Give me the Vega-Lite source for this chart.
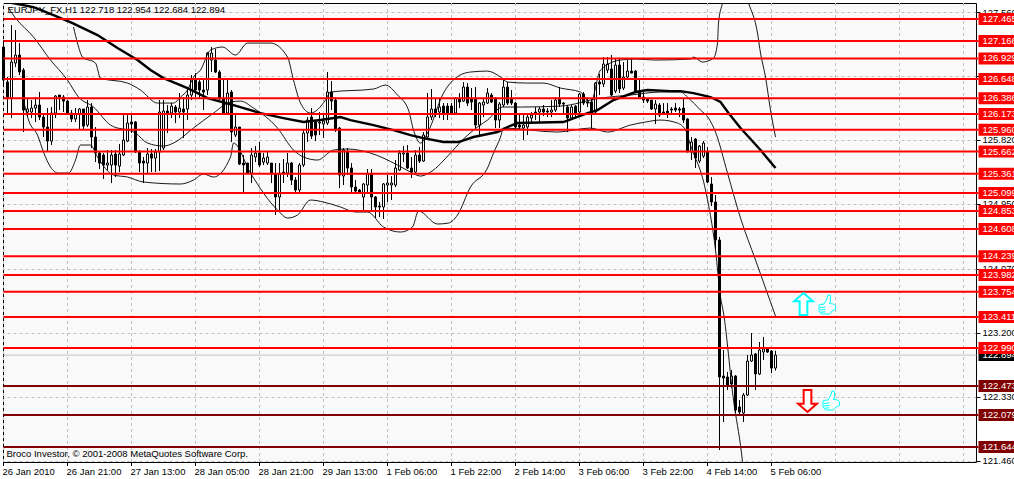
{
  "$schema": "https://vega.github.io/schema/vega-lite/v6.json",
  "width": 973,
  "height": 459,
  "autosize": {"type": "none"},
  "padding": {"left": 3, "top": 3, "right": 38, "bottom": 17},
  "background": "#ffffff",
  "view": {"fill": "#f9f9f9", "stroke": "#000000", "strokeWidth": 1},
  "config": {"font": "Liberation Sans", "text": {"font": "Liberation Sans"}},
  "datasets": {
    "candles": [
      {"i":0,"o":127.084,"h":127.179,"l":126.567,"c":126.635},{"i":1,"o":126.608,"h":126.676,"l":126.159,"c":126.404},{"i":2,"o":126.390,"h":127.383,"l":126.118,"c":126.880},{"i":3,"o":126.866,"h":127.315,"l":126.812,"c":126.975},
      {"i":4,"o":126.975,"h":127.138,"l":126.703,"c":126.744},{"i":5,"o":126.771,"h":126.798,"l":125.928,"c":126.227},{"i":6,"o":126.200,"h":126.390,"l":126.132,"c":126.241},{"i":7,"o":126.200,"h":126.363,"l":126.118,"c":126.254},
      {"i":8,"o":126.254,"h":126.404,"l":126.064,"c":126.295},{"i":9,"o":126.295,"h":126.472,"l":126.091,"c":126.132},{"i":10,"o":126.132,"h":126.186,"l":125.860,"c":125.996},{"i":11,"o":125.996,"h":126.254,"l":125.669,"c":125.805},
      {"i":12,"o":125.805,"h":126.268,"l":125.751,"c":126.186},{"i":13,"o":126.186,"h":126.431,"l":126.118,"c":126.417},{"i":14,"o":126.431,"h":126.431,"l":126.227,"c":126.404},{"i":15,"o":126.404,"h":126.431,"l":126.200,"c":126.349},
      {"i":16,"o":126.349,"h":126.363,"l":126.159,"c":126.186},{"i":17,"o":126.186,"h":126.227,"l":126.064,"c":126.105},{"i":18,"o":126.105,"h":126.254,"l":126.064,"c":126.173},{"i":19,"o":126.173,"h":126.254,"l":125.955,"c":126.241},
      {"i":20,"o":126.241,"h":126.241,"l":125.955,"c":126.009},{"i":21,"o":126.023,"h":126.363,"l":125.996,"c":126.268},{"i":22,"o":126.268,"h":126.322,"l":125.710,"c":125.860},{"i":23,"o":125.860,"h":125.996,"l":125.520,"c":125.642},
      {"i":24,"o":125.642,"h":125.656,"l":125.425,"c":125.506},{"i":25,"o":125.615,"h":125.642,"l":125.289,"c":125.479},{"i":26,"o":125.479,"h":125.683,"l":125.411,"c":125.506},{"i":27,"o":125.479,"h":125.683,"l":125.234,"c":125.615},
      {"i":28,"o":125.629,"h":125.683,"l":125.316,"c":125.479},{"i":29,"o":125.465,"h":125.765,"l":125.384,"c":125.629},{"i":30,"o":125.615,"h":126.159,"l":125.601,"c":125.819},{"i":31,"o":125.805,"h":126.159,"l":125.792,"c":126.050},
      {"i":32,"o":126.064,"h":126.186,"l":125.914,"c":126.037},{"i":33,"o":126.064,"h":126.077,"l":125.642,"c":125.656},{"i":34,"o":125.656,"h":125.683,"l":125.384,"c":125.506},{"i":35,"o":125.533,"h":125.588,"l":125.234,"c":125.506},
      {"i":36,"o":125.506,"h":125.710,"l":125.370,"c":125.629},{"i":37,"o":125.629,"h":125.697,"l":125.384,"c":125.574},{"i":38,"o":125.574,"h":125.697,"l":125.384,"c":125.656},{"i":39,"o":125.656,"h":126.363,"l":125.397,"c":126.200},
      {"i":40,"o":125.710,"h":126.363,"l":125.683,"c":126.213},{"i":41,"o":126.213,"h":126.295,"l":125.914,"c":126.186},{"i":42,"o":126.186,"h":126.322,"l":126.118,"c":126.281},{"i":43,"o":126.268,"h":126.295,"l":126.050,"c":126.200},
      {"i":44,"o":126.200,"h":126.458,"l":126.118,"c":126.254},{"i":45,"o":126.241,"h":126.404,"l":125.846,"c":126.200},{"i":46,"o":126.241,"h":126.526,"l":126.091,"c":126.431},{"i":47,"o":126.431,"h":126.703,"l":126.363,"c":126.649},
      {"i":48,"o":126.649,"h":126.730,"l":126.404,"c":126.499},{"i":49,"o":126.608,"h":126.635,"l":126.377,"c":126.499},{"i":50,"o":126.499,"h":126.635,"l":126.227,"c":126.472},{"i":51,"o":126.499,"h":127.016,"l":126.431,"c":127.002},
      {"i":52,"o":126.907,"h":127.084,"l":126.744,"c":127.002},{"i":53,"o":126.907,"h":127.057,"l":126.730,"c":126.744},{"i":54,"o":126.744,"h":126.771,"l":126.363,"c":126.377},{"i":55,"o":126.377,"h":126.635,"l":126.186,"c":126.186},
      {"i":56,"o":126.186,"h":126.635,"l":126.186,"c":126.458},{"i":57,"o":126.472,"h":126.499,"l":125.792,"c":125.928},{"i":58,"o":125.887,"h":126.186,"l":125.860,"c":125.996},{"i":59,"o":125.996,"h":125.996,"l":125.479,"c":125.493},
      {"i":60,"o":125.506,"h":125.615,"l":125.112,"c":125.479},{"i":61,"o":125.506,"h":125.506,"l":125.357,"c":125.370},{"i":62,"o":125.370,"h":125.710,"l":125.234,"c":125.615},{"i":63,"o":125.588,"h":125.737,"l":125.520,"c":125.642},
      {"i":64,"o":125.642,"h":125.792,"l":125.452,"c":125.479},{"i":65,"o":125.520,"h":125.642,"l":125.479,"c":125.574},{"i":66,"o":125.506,"h":125.656,"l":125.479,"c":125.588},{"i":67,"o":125.506,"h":125.506,"l":125.234,"c":125.357},
      {"i":68,"o":125.357,"h":125.506,"l":124.799,"c":125.044},{"i":69,"o":125.044,"h":125.506,"l":124.867,"c":125.357},{"i":70,"o":125.384,"h":125.561,"l":125.234,"c":125.370},{"i":71,"o":125.370,"h":125.642,"l":125.316,"c":125.506},
      {"i":72,"o":125.506,"h":125.520,"l":125.207,"c":125.275},{"i":73,"o":125.275,"h":125.316,"l":125.112,"c":125.139},{"i":74,"o":125.139,"h":125.506,"l":125.112,"c":125.479},{"i":75,"o":125.479,"h":125.955,"l":125.452,"c":125.914},
      {"i":76,"o":125.914,"h":126.132,"l":125.792,"c":126.091},{"i":77,"o":126.132,"h":126.254,"l":125.833,"c":125.873},{"i":78,"o":126.064,"h":126.091,"l":125.805,"c":125.887},{"i":79,"o":126.050,"h":126.200,"l":125.887,"c":126.064},
      {"i":80,"o":126.037,"h":126.159,"l":125.846,"c":126.077},{"i":81,"o":126.050,"h":126.744,"l":126.023,"c":126.472},{"i":82,"o":126.472,"h":126.621,"l":126.227,"c":126.349},{"i":83,"o":126.363,"h":126.404,"l":125.928,"c":125.955},
      {"i":84,"o":125.982,"h":125.996,"l":125.166,"c":125.343},{"i":85,"o":125.329,"h":125.710,"l":125.207,"c":125.683},{"i":86,"o":125.656,"h":125.710,"l":125.343,"c":125.438},{"i":87,"o":125.438,"h":125.506,"l":125.112,"c":125.180},
      {"i":88,"o":125.180,"h":125.275,"l":125.085,"c":125.125},{"i":89,"o":125.139,"h":125.153,"l":125.098,"c":125.112},{"i":90,"o":125.044,"h":125.234,"l":124.867,"c":125.221},{"i":91,"o":125.207,"h":125.425,"l":125.112,"c":125.357},
      {"i":92,"o":125.357,"h":125.425,"l":124.867,"c":125.044},{"i":93,"o":125.044,"h":125.057,"l":124.758,"c":124.908},{"i":94,"o":124.921,"h":124.976,"l":124.772,"c":124.908},{"i":95,"o":124.908,"h":125.234,"l":124.745,"c":125.221},
      {"i":96,"o":125.207,"h":125.343,"l":124.976,"c":125.234},{"i":97,"o":125.207,"h":125.329,"l":125.003,"c":125.234},{"i":98,"o":125.207,"h":125.547,"l":125.180,"c":125.438},{"i":99,"o":125.411,"h":125.683,"l":125.397,"c":125.642},
      {"i":100,"o":125.629,"h":125.737,"l":125.520,"c":125.642},{"i":101,"o":125.642,"h":125.751,"l":125.425,"c":125.438},{"i":102,"o":125.438,"h":125.588,"l":125.302,"c":125.384},{"i":103,"o":125.384,"h":125.683,"l":125.357,"c":125.615},
      {"i":104,"o":125.615,"h":125.724,"l":125.506,"c":125.533},{"i":105,"o":125.533,"h":125.928,"l":125.520,"c":125.887},{"i":106,"o":125.860,"h":126.458,"l":125.846,"c":126.132},{"i":107,"o":126.132,"h":126.513,"l":126.091,"c":126.241},
      {"i":108,"o":126.241,"h":126.390,"l":126.132,"c":126.186},{"i":109,"o":126.200,"h":126.390,"l":126.118,"c":126.268},{"i":110,"o":126.281,"h":126.322,"l":126.091,"c":126.186},{"i":111,"o":126.281,"h":126.322,"l":126.091,"c":126.186},
      {"i":112,"o":126.281,"h":126.322,"l":126.186,"c":126.186},{"i":113,"o":126.186,"h":126.404,"l":126.186,"c":126.390},{"i":114,"o":126.377,"h":126.458,"l":126.254,"c":126.336},{"i":115,"o":126.349,"h":126.608,"l":126.336,"c":126.540},
      {"i":116,"o":126.540,"h":126.594,"l":126.281,"c":126.322},{"i":117,"o":126.377,"h":126.526,"l":126.227,"c":126.336},{"i":118,"o":126.377,"h":126.540,"l":125.982,"c":126.023},{"i":119,"o":126.023,"h":126.336,"l":125.860,"c":126.322},
      {"i":120,"o":126.295,"h":126.390,"l":126.132,"c":126.336},{"i":121,"o":126.322,"h":126.526,"l":126.309,"c":126.458},{"i":122,"o":126.431,"h":126.458,"l":126.322,"c":126.336},{"i":123,"o":126.390,"h":126.404,"l":125.982,"c":126.091},
      {"i":124,"o":126.091,"h":126.336,"l":125.982,"c":126.309},{"i":125,"o":126.295,"h":126.662,"l":126.268,"c":126.540},{"i":126,"o":126.540,"h":126.608,"l":126.295,"c":126.322},{"i":127,"o":126.377,"h":126.499,"l":126.295,"c":126.322},
      {"i":128,"o":126.322,"h":126.336,"l":125.982,"c":125.996},{"i":129,"o":126.023,"h":126.186,"l":125.969,"c":125.996},{"i":130,"o":125.982,"h":126.186,"l":125.819,"c":126.023},{"i":131,"o":125.996,"h":126.186,"l":125.887,"c":126.132},
      {"i":132,"o":126.118,"h":126.200,"l":126.050,"c":126.159},{"i":133,"o":126.200,"h":126.268,"l":126.091,"c":126.173},{"i":134,"o":126.200,"h":126.268,"l":126.064,"c":126.241},{"i":135,"o":126.241,"h":126.295,"l":126.145,"c":126.200},
      {"i":136,"o":126.213,"h":126.254,"l":126.132,"c":126.200},{"i":137,"o":126.200,"h":126.363,"l":126.132,"c":126.227},{"i":138,"o":126.227,"h":126.404,"l":126.200,"c":126.363},{"i":139,"o":126.390,"h":126.540,"l":126.268,"c":126.309},
      {"i":140,"o":126.322,"h":126.336,"l":126.186,"c":126.309},{"i":141,"o":126.268,"h":126.295,"l":125.928,"c":126.118},{"i":142,"o":126.118,"h":126.295,"l":126.091,"c":126.268},{"i":143,"o":126.281,"h":126.295,"l":126.118,"c":126.186},
      {"i":144,"o":126.200,"h":126.458,"l":126.186,"c":126.445},{"i":145,"o":126.445,"h":126.472,"l":126.295,"c":126.322},{"i":146,"o":126.336,"h":126.390,"l":126.268,"c":126.322},{"i":147,"o":126.336,"h":126.390,"l":125.955,"c":126.186},
      {"i":148,"o":126.200,"h":126.608,"l":126.186,"c":126.594},{"i":149,"o":126.608,"h":126.717,"l":126.431,"c":126.581},{"i":150,"o":126.581,"h":126.948,"l":126.540,"c":126.853},{"i":151,"o":126.771,"h":126.948,"l":126.730,"c":126.853},
      {"i":152,"o":126.785,"h":126.975,"l":126.417,"c":126.431},{"i":153,"o":126.485,"h":126.921,"l":126.458,"c":126.839},{"i":154,"o":126.839,"h":126.921,"l":126.458,"c":126.513},{"i":155,"o":126.526,"h":126.880,"l":126.499,"c":126.676},
      {"i":156,"o":126.676,"h":126.907,"l":126.635,"c":126.757},{"i":157,"o":126.757,"h":126.921,"l":126.730,"c":126.730},{"i":158,"o":126.757,"h":126.771,"l":126.458,"c":126.472},{"i":159,"o":126.485,"h":126.635,"l":126.404,"c":126.404},
      {"i":160,"o":126.404,"h":126.472,"l":126.322,"c":126.363},{"i":161,"o":126.377,"h":126.390,"l":126.322,"c":126.349},{"i":162,"o":126.363,"h":126.363,"l":126.227,"c":126.241},{"i":163,"o":126.241,"h":126.363,"l":126.037,"c":126.309},
      {"i":164,"o":126.295,"h":126.322,"l":126.132,"c":126.159},{"i":165,"o":126.200,"h":126.322,"l":126.159,"c":126.186},{"i":166,"o":126.213,"h":126.322,"l":126.118,"c":126.186},{"i":167,"o":126.241,"h":126.268,"l":126.186,"c":126.227},
      {"i":168,"o":126.254,"h":126.322,"l":126.200,"c":126.227},{"i":169,"o":126.241,"h":126.268,"l":126.132,"c":126.227},{"i":170,"o":126.254,"h":126.390,"l":126.050,"c":126.091},{"i":171,"o":126.105,"h":126.118,"l":125.656,"c":125.656},
      {"i":172,"o":125.656,"h":125.860,"l":125.547,"c":125.792},{"i":173,"o":125.833,"h":125.846,"l":125.438,"c":125.574},{"i":174,"o":125.533,"h":125.751,"l":125.506,"c":125.737},{"i":175,"o":125.601,"h":125.805,"l":125.574,"c":125.778},
      {"i":176,"o":125.656,"h":125.724,"l":125.234,"c":125.248},{"i":177,"o":125.221,"h":125.316,"l":124.921,"c":124.976},{"i":178,"o":124.976,"h":125.071,"l":124.323,"c":124.459},{"i":179,"o":124.459,"h":124.500,"l":121.603,"c":122.596},
      {"i":180,"o":122.609,"h":122.963,"l":121.984,"c":122.582},{"i":181,"o":122.596,"h":122.664,"l":122.419,"c":122.487},{"i":182,"o":122.501,"h":122.691,"l":122.446,"c":122.609},{"i":183,"o":122.609,"h":122.623,"l":122.106,"c":122.147},
      {"i":184,"o":122.188,"h":122.283,"l":122.065,"c":122.120},{"i":185,"o":122.106,"h":122.378,"l":121.984,"c":122.351},{"i":186,"o":122.351,"h":122.895,"l":122.337,"c":122.813},{"i":187,"o":122.813,"h":123.194,"l":122.800,"c":122.895},
      {"i":188,"o":122.909,"h":122.922,"l":122.419,"c":122.637},{"i":189,"o":122.637,"h":123.072,"l":122.623,"c":122.963},{"i":190,"o":122.936,"h":123.140,"l":122.827,"c":122.977},{"i":191,"o":122.977,"h":122.990,"l":122.922,"c":122.936},
      {"i":192,"o":122.949,"h":122.963,"l":122.650,"c":122.718},{"i":193,"o":122.718,"h":122.954,"l":122.684,"c":122.894}
    ],
    "ma": [
      {"i":0,"p":127.696},{"i":1,"p":127.696},{"i":7.5,"p":127.628},{"i":12.5,"p":127.519},{"i":17.25,"p":127.410},{"i":23.5,"p":127.247},{"i":28.5,"p":127.070},{"i":33.5,"p":126.907},{"i":36.75,"p":126.771},{"i":40,"p":126.662},{"i":46,"p":126.526},{"i":51,"p":126.390},{"i":57.5,"p":126.295},{"i":64.25,"p":126.186},{"i":70,"p":126.118},{"i":75,"p":126.064},{"i":79.25,"p":126.091},{"i":84.25,"p":126.132},{"i":86.75,"p":126.091},{"i":92.5,"p":126.023},{"i":97.5,"p":125.955},{"i":101.75,"p":125.887},{"i":105,"p":125.846},{"i":110,"p":125.792},{"i":113.75,"p":125.792},{"i":117.5,"p":125.860},{"i":123.5,"p":125.928},{"i":126,"p":125.996},{"i":128.5,"p":126.050},{"i":140,"p":126.064},{"i":146,"p":126.186},{"i":148.5,"p":126.227},{"i":152.5,"p":126.363},{"i":158,"p":126.472},{"i":161,"p":126.499},{"i":166.75,"p":126.485},{"i":169.25,"p":126.485},{"i":172.5,"p":126.458},{"i":176.75,"p":126.404},{"i":179.25,"p":126.336},{"i":181.25,"p":126.186},{"i":184.25,"p":125.982},{"i":189.25,"p":125.683},{"i":193,"p":125.438}
    ],
    "bands": [
      {"s":"upper","i":17.5,"p":127.356},{"s":"upper","i":18.5,"p":127.138},{"s":"upper","i":19.75,"p":126.948},{"s":"upper","i":23,"p":126.866},{"s":"upper","i":24.25,"p":126.662},{"s":"upper","i":31,"p":126.594},{"s":"upper","i":34.25,"p":126.499},{"s":"upper","i":38.5,"p":126.322},{"s":"upper","i":42.5,"p":126.322},{"s":"upper","i":44.25,"p":126.404},{"s":"upper","i":46,"p":126.499},{"s":"upper","i":47.5,"p":126.676},{"s":"upper","i":49.25,"p":126.771},{"s":"upper","i":51.75,"p":127.043},{"s":"upper","i":54.75,"p":127.084},{"s":"upper","i":58,"p":126.975},{"s":"upper","i":61,"p":127.138},{"s":"upper","i":66.75,"p":127.138},{"s":"upper","i":71,"p":126.948},{"s":"upper","i":72.5,"p":126.635},{"s":"upper","i":74.25,"p":126.322},{"s":"upper","i":76.75,"p":126.186},{"s":"upper","i":80.5,"p":126.363},{"s":"upper","i":81.75,"p":126.472},{"s":"upper","i":92.5,"p":126.513},{"s":"upper","i":95.5,"p":126.567},{"s":"upper","i":98.5,"p":126.431},{"s":"upper","i":101.25,"p":126.227},{"s":"upper","i":102.5,"p":125.955},{"s":"upper","i":104.25,"p":125.778},{"s":"upper","i":106,"p":125.914},{"s":"upper","i":110,"p":126.458},{"s":"upper","i":113,"p":126.662},{"s":"upper","i":116.75,"p":126.744},{"s":"upper","i":121,"p":126.757},{"s":"upper","i":124.25,"p":126.676},{"s":"upper","i":126,"p":126.608},{"s":"upper","i":131,"p":126.594},{"s":"upper","i":135,"p":126.594},{"s":"upper","i":139.25,"p":126.526},{"s":"upper","i":144.25,"p":126.472},{"s":"upper","i":146.75,"p":126.322},{"s":"upper","i":149.25,"p":126.771},{"s":"upper","i":154.25,"p":126.907},{"s":"upper","i":158,"p":126.921},{"s":"upper","i":163,"p":126.907},{"s":"upper","i":171.75,"p":126.921},{"s":"upper","i":172.5,"p":126.948},{"s":"upper","i":174.75,"p":126.880},{"s":"upper","i":177.5,"p":126.934},{"s":"upper","i":178.5,"p":127.138},{"s":"upper","i":178.75,"p":127.410},{"s":"upper","i":179.75,"p":127.682},{"s":"upper","i":183,"p":128.131},{"s":"upper","i":186.25,"p":127.682},{"s":"upper","i":188.5,"p":127.274},{"s":"upper","i":189.25,"p":127.002},{"s":"upper","i":190.5,"p":126.676},{"s":"upper","i":191.75,"p":126.227},{"s":"upper","i":193,"p":125.860},
      {"s":"middle","i":1.25,"p":127.614},{"s":"middle","i":3,"p":127.478},{"s":"middle","i":7.5,"p":127.220},{"s":"middle","i":11.75,"p":126.907},{"s":"middle","i":16,"p":126.635},{"s":"middle","i":18.75,"p":126.404},{"s":"middle","i":22.5,"p":126.268},{"s":"middle","i":26.75,"p":126.023},{"s":"middle","i":33,"p":125.914},{"s":"middle","i":36,"p":125.778},{"s":"middle","i":40,"p":125.737},{"s":"middle","i":42.5,"p":125.778},{"s":"middle","i":47.5,"p":125.982},{"s":"middle","i":52.5,"p":126.186},{"s":"middle","i":56.75,"p":126.336},{"s":"middle","i":59.25,"p":126.349},{"s":"middle","i":62.5,"p":126.254},{"s":"middle","i":68.5,"p":125.982},{"s":"middle","i":72.5,"p":125.683},{"s":"middle","i":75,"p":125.588},{"s":"middle","i":78.5,"p":125.547},{"s":"middle","i":82.5,"p":125.683},{"s":"middle","i":86,"p":125.697},{"s":"middle","i":91.75,"p":125.642},{"s":"middle","i":98.5,"p":125.479},{"s":"middle","i":101.75,"p":125.384},{"s":"middle","i":104.25,"p":125.329},{"s":"middle","i":106.75,"p":125.384},{"s":"middle","i":111.75,"p":125.642},{"s":"middle","i":114.25,"p":125.792},{"s":"middle","i":118.5,"p":125.996},{"s":"middle","i":121,"p":126.091},{"s":"middle","i":124.75,"p":126.268},{"s":"middle","i":129.25,"p":126.268},{"s":"middle","i":139.25,"p":126.281},{"s":"middle","i":149.25,"p":126.390},{"s":"middle","i":156.75,"p":126.431},{"s":"middle","i":164.25,"p":126.472},{"s":"middle","i":169.25,"p":126.472},{"s":"middle","i":171.25,"p":126.390},{"s":"middle","i":174.25,"p":126.227},{"s":"middle","i":176.25,"p":126.118},{"s":"middle","i":178,"p":125.928},{"s":"middle","i":181,"p":125.370},{"s":"middle","i":184.25,"p":124.758},{"s":"middle","i":188,"p":124.187},{"s":"middle","i":193,"p":123.425},
      {"s":"lower","i":5,"p":126.363},{"s":"lower","i":6.25,"p":126.091},{"s":"lower","i":8.5,"p":125.887},{"s":"lower","i":10,"p":125.656},{"s":"lower","i":11.75,"p":125.452},{"s":"lower","i":13.75,"p":125.370},{"s":"lower","i":16.25,"p":125.370},{"s":"lower","i":18,"p":125.547},{"s":"lower","i":19.25,"p":125.751},{"s":"lower","i":21.75,"p":125.751},{"s":"lower","i":23.5,"p":125.588},{"s":"lower","i":27.5,"p":125.343},{"s":"lower","i":31,"p":125.316},{"s":"lower","i":35,"p":125.248},{"s":"lower","i":44.25,"p":125.221},{"s":"lower","i":47.5,"p":125.275},{"s":"lower","i":50,"p":125.357},{"s":"lower","i":52.5,"p":125.316},{"s":"lower","i":56.75,"p":125.588},{"s":"lower","i":57.5,"p":125.778},{"s":"lower","i":61.75,"p":125.370},{"s":"lower","i":68.5,"p":124.867},{"s":"lower","i":71,"p":124.758},{"s":"lower","i":73.5,"p":124.799},{"s":"lower","i":76.75,"p":125.003},{"s":"lower","i":80,"p":124.976},{"s":"lower","i":84.25,"p":124.908},{"s":"lower","i":88,"p":124.840},{"s":"lower","i":91,"p":124.840},{"s":"lower","i":95,"p":124.636},{"s":"lower","i":99.25,"p":124.568},{"s":"lower","i":102.25,"p":124.636},{"s":"lower","i":103.75,"p":124.853},{"s":"lower","i":108.5,"p":124.677},{"s":"lower","i":111.25,"p":124.690},{"s":"lower","i":113.5,"p":124.799},{"s":"lower","i":116.75,"p":125.180},{"s":"lower","i":121,"p":125.438},{"s":"lower","i":122.5,"p":125.642},{"s":"lower","i":124.25,"p":125.860},{"s":"lower","i":125,"p":125.982},{"s":"lower","i":138.5,"p":125.928},{"s":"lower","i":146.75,"p":125.982},{"s":"lower","i":151,"p":125.928},{"s":"lower","i":156.75,"p":126.023},{"s":"lower","i":160.5,"p":126.064},{"s":"lower","i":164.25,"p":126.091},{"s":"lower","i":168.5,"p":126.050},{"s":"lower","i":170.5,"p":125.955},{"s":"lower","i":171.75,"p":125.751},{"s":"lower","i":175.5,"p":125.139},{"s":"lower","i":178,"p":124.323},{"s":"lower","i":179.25,"p":123.684},{"s":"lower","i":180,"p":123.466},{"s":"lower","i":182.5,"p":122.283},{"s":"lower","i":184.5,"p":121.562},{"s":"lower","i":185.5,"p":121.059}
    ],
    "levels": [
      {"p":127.465,"k":"above"},{"p":127.166,"k":"above"},{"p":126.929,"k":"above"},{"p":126.648,"k":"above"},{"p":126.386,"k":"above"},{"p":126.173,"k":"above"},{"p":125.960,"k":"above"},{"p":125.662,"k":"above"},{"p":125.361,"k":"above"},{"p":125.099,"k":"above"},{"p":124.853,"k":"above"},{"p":124.608,"k":"above"},{"p":124.239,"k":"above"},{"p":123.982,"k":"above"},{"p":123.754,"k":"above"},{"p":123.411,"k":"above"},{"p":122.990,"k":"above"},{"p":122.473,"k":"below"},{"p":122.079,"k":"below"},{"p":121.644,"k":"below"}
    ],
    "last": [{"p":122.894}],
    "notes": [
      {"i":1,"p":127.587,"t":"EURJPY_FX,H1  122.718 122.954 122.684 122.894"},
      {"i":0.75,"p":121.552,"t":"Broco Investor, © 2001-2008 MetaQuotes Software Corp."}
    ]
  },
  "layer": [
    {
      "data": {"name": "last"},
      "mark": {"type": "rule", "color": "#c0c0c0", "strokeWidth": 1},
      "encoding": {
        "x": {
          "datum": 0,
          "type": "quantitative",
          "scale": {"domain": [-0.125, 243.125], "nice": false, "zero": false, "padding": 0},
          "axis": {
            "title": null,
            "values": [0,8,16,24,32,40,48,56,64,72,80,88,96,104,112,120,128,136,144,152,160,168,176,184,192,200,208,216,224,232,240],
            "grid": true, "gridColor": "#c0c0c0", "gridDash": [3, 3],
            "domain": false, "translate": 0, "tickRound": false,
            "tickColor": "#000000", "tickSize": 4,
            "tickOpacity": {"condition": {"test": "datum.value % 16 == 0 && datum.value <= 192", "value": 1}, "value": 0},
            "labelExpr": "{'0':'26 Jan 2010','16':'26 Jan 21:00','32':'27 Jan 13:00','48':'28 Jan 05:00','64':'28 Jan 21:00','80':'29 Jan 13:00','96':'1 Feb 06:00','112':'1 Feb 22:00','128':'2 Feb 14:00','144':'3 Feb 06:00','160':'3 Feb 22:00','176':'4 Feb 14:00','192':'5 Feb 06:00'}[datum.value] || ''",
            "labelAlign": "left", "labelBaseline": "top", "labelOffset": -1, "labelPadding": 1,
            "labelFlush": false, "labelOverlap": false, "labelBound": false,
            "labelColor": "#000000", "labelFont": "Liberation Sans", "labelFontSize": 9.5
          }
        },
        "x2": {"datum": 243.25},
        "y": {
          "field": "p",
          "type": "quantitative",
          "scale": {"domain": [121.44, 127.683], "nice": false, "zero": false},
          "axis": {
            "orient": "right",
            "title": null,
            "values": [127.56,127.12,126.69,126.25,125.82,125.38,124.95,124.51,124.07,123.64,123.20,122.77,122.33,121.89,121.46],
            "format": ".3f",
            "grid": true, "gridColor": "#c0c0c0", "gridDash": [3, 3],
            "domain": false,
            "tickColor": "#000000", "tickSize": 4,
            "labelPadding": 2, "labelAlign": "left", "labelBaseline": "middle",
            "labelFlush": false, "labelOverlap": false, "labelBound": false,
            "labelColor": "#000000", "labelFont": "Liberation Sans", "labelFontSize": 9.5
          }
        }
      }
    },
    {
      "data": {"name": "candles"},
      "mark": {"type": "rule", "color": "#000000", "strokeWidth": 1},
      "encoding": {
        "x": {"field": "i", "type": "quantitative"},
        "y": {"field": "l", "type": "quantitative"},
        "y2": {"field": "h"}
      }
    },
    {
      "data": {"name": "candles"},
      "mark": {"type": "bar", "orient": "vertical", "size": 2, "stroke": "#000000", "strokeWidth": 1},
      "encoding": {
        "x": {"field": "i", "type": "quantitative"},
        "y": {"field": "o", "type": "quantitative"},
        "y2": {"field": "c"},
        "fill": {"condition": {"test": "datum.c >= datum.o", "value": "#ffffff"}, "value": "#000000"}
      }
    },
    {
      "data": {"name": "bands"},
      "mark": {"type": "line", "color": "#000000", "strokeWidth": 0.9, "clip": true, "interpolate": "monotone"},
      "encoding": {
        "x": {"field": "i", "type": "quantitative"},
        "y": {"field": "p", "type": "quantitative"},
        "detail": {"field": "s"},
        "order": {"field": "i", "type": "quantitative"}
      }
    },
    {
      "data": {"name": "ma"},
      "mark": {"type": "line", "color": "#000000", "strokeWidth": 2.4, "clip": true},
      "encoding": {
        "x": {"field": "i", "type": "quantitative"},
        "y": {"field": "p", "type": "quantitative"}
      }
    },
    {
      "data": {"name": "last"},
      "mark": {"type": "rule", "color": "#000000", "strokeWidth": 12},
      "encoding": {
        "x": {"datum": 243.75},
        "x2": {"datum": 253},
        "y": {"field": "p", "type": "quantitative"}
      }
    },
    {
      "data": {"name": "last"},
      "mark": {"type": "text", "color": "#ffffff", "align": "left", "baseline": "middle", "fontSize": 9.5, "font": "Liberation Sans"},
      "encoding": {
        "x": {"datum": 244.75},
        "y": {"field": "p", "type": "quantitative"},
        "text": {"field": "p", "type": "quantitative", "format": ".3f"}
      }
    },
    {
      "data": {"name": "levels"},
      "mark": {"type": "rule", "strokeWidth": 2},
      "encoding": {
        "x": {"datum": 0},
        "x2": {"datum": 243.75},
        "y": {"field": "p", "type": "quantitative"},
        "color": {"field": "k", "type": "nominal", "scale": {"domain": ["above", "below"], "range": ["#ff0000", "#800000"]}, "legend": null}
      }
    },
    {
      "data": {"name": "levels"},
      "mark": {"type": "rule", "strokeWidth": 12},
      "encoding": {
        "x": {"datum": 243.75},
        "x2": {"datum": 253},
        "y": {"field": "p", "type": "quantitative"},
        "color": {"field": "k", "type": "nominal", "legend": null}
      }
    },
    {
      "data": {"name": "levels"},
      "mark": {"type": "text", "color": "#ffffff", "align": "left", "baseline": "middle", "fontSize": 9.5, "font": "Liberation Sans"},
      "encoding": {
        "x": {"datum": 244.75},
        "y": {"field": "p", "type": "quantitative"},
        "text": {"field": "p", "type": "quantitative", "format": ".3f"}
      }
    },
    {
      "data": {"values": [{"i": 200, "p": 123.589}]},
      "mark": {"type": "point", "shape": "M0,-1 L0.85,-0.25 L0.35,-0.25 L0.35,1 L-0.35,1 L-0.35,-0.25 L-0.85,-0.25 Z", "size": 484, "fill": "#ffffff", "fillOpacity": 1, "stroke": "#00ffff", "strokeWidth": 2, "opacity": 1},
      "encoding": {"x": {"field": "i", "type": "quantitative"}, "y": {"field": "p", "type": "quantitative"}}
    },
    {
      "data": {"values": [{"i": 201, "p": 122.27}]},
      "mark": {"type": "point", "shape": "M0,1 L0.85,0.25 L0.35,0.25 L0.35,-1 L-0.35,-1 L-0.35,0.25 L-0.85,0.25 Z", "size": 484, "fill": "#ffffff", "fillOpacity": 1, "stroke": "#ff0000", "strokeWidth": 2, "opacity": 1},
      "encoding": {"x": {"field": "i", "type": "quantitative"}, "y": {"field": "p", "type": "quantitative"}}
    },
    {
      "data": {"values": [{"i": 206, "p": 123.575}, {"i": 207, "p": 122.27}]},
      "mark": {"type": "point", "shape": "M-0.8,-0.05 L-0.35,-0.1 L-0.1,-0.5 L0.05,-1 L0.3,-0.95 L0.3,-0.4 L0.2,-0.15 L0.6,-0.1 L0.8,0.1 L0.8,0.45 L0.45,0.6 L0.2,0.9 L-0.6,0.9 L-0.85,0.6 L-0.85,0.1 Z M-0.8,0.25 L-0.2,0.2 M-0.8,0.5 L-0.2,0.45 M-0.7,0.72 L-0.2,0.68", "size": 400, "fill": "#ffffff", "fillOpacity": 1, "stroke": "#00ffff", "strokeWidth": 1, "opacity": 1},
      "encoding": {"x": {"field": "i", "type": "quantitative"}, "y": {"field": "p", "type": "quantitative"}}
    },
    {
      "data": {"name": "notes"},
      "mark": {"type": "text", "color": "#000000", "align": "left", "baseline": "middle", "fontSize": 9.5, "font": "Liberation Sans"},
      "encoding": {
        "x": {"field": "i", "type": "quantitative"},
        "y": {"field": "p", "type": "quantitative"},
        "text": {"field": "t"}
      }
    }
  ]
}
